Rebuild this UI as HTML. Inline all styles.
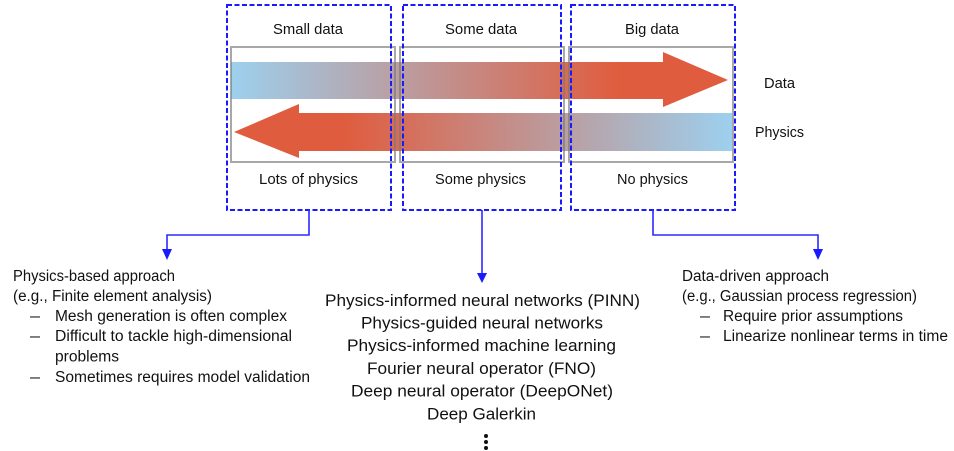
<!DOCTYPE html>
<html>
<head>
<meta charset="utf-8">
<style>
  html,body{margin:0;padding:0;background:#fff;}
  svg{display:block;}
  text{font-family:"Liberation Sans",Arial,sans-serif;fill:#111;}
</style>
</head>
<body>
<svg width="954" height="451" viewBox="0 0 954 451" xmlns="http://www.w3.org/2000/svg">
  <defs>
    <linearGradient id="gTop" gradientUnits="userSpaceOnUse" x1="231" y1="0" x2="620" y2="0">
      <stop offset="0" stop-color="#9dd0ee"/>
      <stop offset="1" stop-color="#e05c3e"/>
    </linearGradient>
    <linearGradient id="gBot" gradientUnits="userSpaceOnUse" x1="343" y1="0" x2="732" y2="0">
      <stop offset="0" stop-color="#e05c3e"/>
      <stop offset="1" stop-color="#9dd0ee"/>
    </linearGradient>
  </defs>

  <!-- arrows -->
  <polygon points="231,62 663,62 663,52 728,80 663,107 663,99 231,99" fill="url(#gTop)"/>
  <polygon points="234,132 299,104 299,113 732,113 732,151 299,151 299,158" fill="url(#gBot)"/>

  <!-- gray boxes -->
  <g fill="none" stroke="#7a7a7a" stroke-opacity="0.65" stroke-width="2">
    <rect x="231" y="47" width="164" height="115"/>
    <rect x="400" y="47" width="164" height="115"/>
    <rect x="569" y="47" width="164" height="115"/>
  </g>

  <!-- dashed blue boxes -->
  <g fill="none" stroke="#1a1aff" stroke-width="2" stroke-dasharray="5 2.5">
    <rect x="227" y="5" width="164" height="205"/>
    <rect x="403" y="5" width="158" height="205"/>
    <rect x="571" y="5" width="164" height="205"/>
  </g>

  <!-- connectors -->
  <g fill="none" stroke="#2b2bff" stroke-width="1.6">
    <path d="M309,210 V235 H167 V251"/>
    <path d="M482,210 V274"/>
    <path d="M653,210 V235 H818 V251"/>
  </g>
  <g fill="#1a1aff">
    <polygon points="162,249 172,249 167,260"/>
    <polygon points="477,273 487,273 482,283"/>
    <polygon points="813,249 823,249 818,260"/>
  </g>

  <!-- top labels -->
  <g font-size="15" lengthAdjust="spacingAndGlyphs">
    <text x="273" y="34" textLength="70" lengthAdjust="spacingAndGlyphs">Small data</text>
    <text x="445" y="34" textLength="72" lengthAdjust="spacingAndGlyphs">Some data</text>
    <text x="625" y="34" textLength="54" lengthAdjust="spacingAndGlyphs">Big data</text>
    <text x="259" y="184" textLength="99" lengthAdjust="spacingAndGlyphs">Lots of physics</text>
    <text x="435" y="184" textLength="91" lengthAdjust="spacingAndGlyphs">Some physics</text>
    <text x="617" y="184" textLength="71" lengthAdjust="spacingAndGlyphs">No physics</text>
    <text x="764" y="88" textLength="31" lengthAdjust="spacingAndGlyphs">Data</text>
    <text x="755" y="137" textLength="49" lengthAdjust="spacingAndGlyphs">Physics</text>
  </g>

  <!-- left text -->
  <g font-size="15.5">
    <text x="13" y="281" textLength="162" lengthAdjust="spacingAndGlyphs">Physics-based approach</text>
    <text x="13" y="301" textLength="199" lengthAdjust="spacingAndGlyphs">(e.g., Finite element analysis)</text>
    <text x="30" y="321" textLength="10" lengthAdjust="spacingAndGlyphs">–</text>
    <text x="55" y="321" textLength="232" lengthAdjust="spacingAndGlyphs">Mesh generation is often complex</text>
    <text x="30" y="341" textLength="10" lengthAdjust="spacingAndGlyphs">–</text>
    <text x="55" y="341" textLength="237" lengthAdjust="spacingAndGlyphs">Difficult to tackle high-dimensional</text>
    <text x="55" y="361.5" textLength="64" lengthAdjust="spacingAndGlyphs">problems</text>
    <text x="30" y="382" textLength="10" lengthAdjust="spacingAndGlyphs">–</text>
    <text x="55" y="382" textLength="255" lengthAdjust="spacingAndGlyphs">Sometimes requires model validation</text>
  </g>

  <!-- right text -->
  <g font-size="15.5">
    <text x="682" y="281" textLength="147" lengthAdjust="spacingAndGlyphs">Data-driven approach</text>
    <text x="682" y="301" textLength="235" lengthAdjust="spacingAndGlyphs">(e.g., Gaussian process regression)</text>
    <text x="700" y="321" textLength="10" lengthAdjust="spacingAndGlyphs">–</text>
    <text x="723" y="321" textLength="180" lengthAdjust="spacingAndGlyphs">Require prior assumptions</text>
    <text x="700" y="341" textLength="10" lengthAdjust="spacingAndGlyphs">–</text>
    <text x="723" y="341" textLength="225" lengthAdjust="spacingAndGlyphs">Linearize nonlinear terms in time</text>
  </g>

  <!-- middle text -->
  <g font-size="16.5">
    <text x="325" y="306" textLength="315" lengthAdjust="spacingAndGlyphs">Physics-informed neural networks (PINN)</text>
    <text x="361" y="328.5" textLength="242" lengthAdjust="spacingAndGlyphs">Physics-guided neural networks</text>
    <text x="347" y="351" textLength="269" lengthAdjust="spacingAndGlyphs">Physics-informed machine learning</text>
    <text x="367" y="374" textLength="229" lengthAdjust="spacingAndGlyphs">Fourier neural operator (FNO)</text>
    <text x="351" y="396.5" textLength="262" lengthAdjust="spacingAndGlyphs">Deep neural operator (DeepONet)</text>
    <text x="427" y="419.5" textLength="109" lengthAdjust="spacingAndGlyphs">Deep Galerkin</text>
  </g>

  <!-- vertical ellipsis -->
  <g fill="#111">
    <circle cx="486" cy="436" r="2"/>
    <circle cx="486" cy="442" r="2"/>
    <circle cx="486" cy="448" r="2"/>
  </g>
</svg>
</body>
</html>
